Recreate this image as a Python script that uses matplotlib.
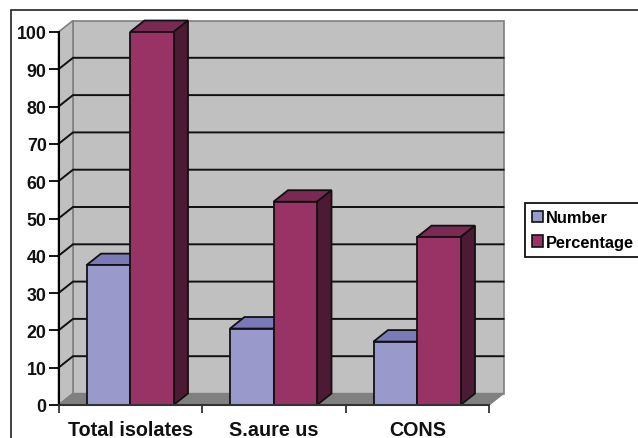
import matplotlib
matplotlib.use("Agg")
import matplotlib.pyplot as plt
from matplotlib.patches import Polygon, Rectangle, Patch

categories = ["Total isolates", "S.aure us", "CONS"]
number = [37.5, 20.5, 17]
percentage = [100, 54.5, 45]
series_names = ["Number", "Percentage"]
yticks = list(range(0, 101, 10))

W, H = 638, 439
plt.rcParams["font.family"] = ["Liberation Sans", "DejaVu Sans"]
plt.rcParams["font.weight"] = "bold"
fig = plt.figure(figsize=(W / 100, H / 100), dpi=100)

# outer frame
fig.add_artist(Rectangle((11 / W, -0.02), 1.1, (H - 11) / H + 0.02, transform=fig.transFigure,
                         fill=False, ec="#222222", lw=1.2))

L, R, B, T = 58.5, 489, 406, 33
ax = fig.add_axes([L / W, 1 - B / H, (R - L) / W, (B - T) / H])
ax.set_xlim(0, 3)
ax.set_ylim(0, 100)
ax.patch.set_visible(False)
for s in ("top", "right"):
    ax.spines[s].set_visible(False)
ax.spines["left"].set_linewidth(1.5)
ax.spines["bottom"].set_linewidth(1.5)
ax.spines["bottom"].set_color("#333333")
for s in ax.spines.values():
    s.set_zorder(6)

dx = 14.5 / ((R - L) / 3)
dy = 11.5 / ((B - T) / 100)

wall_edge = "#808080"
ax.add_patch(Polygon([(dx, 0 + dy), (3 + dx, dy), (3 + dx, 100 + dy), (dx, 100 + dy)],
                     fc="#c0c0c0", ec=wall_edge, lw=1.2, clip_on=False, zorder=1))
ax.add_patch(Polygon([(0, 0), (dx, dy), (dx, 100 + dy), (0, 100)],
                     fc="#c0c0c0", ec=wall_edge, lw=1.2, clip_on=False, zorder=1))
ax.add_patch(Polygon([(0, 0), (3, 0), (3 + dx, dy), (dx, dy)],
                     fc="#808080", ec="#808080", lw=1, clip_on=False, zorder=1.5))
for v in yticks[1:-1]:
    ax.plot([0, dx, 3 + dx], [v, v + dy, v + dy], color="#111111", lw=1.4,
            clip_on=False, zorder=2, solid_joinstyle="miter")


def bar3d(x0, width, h, front, top, side, z):
    ax.bar(x0, h, width, align="edge", color=front, edgecolor="#111111", linewidth=1.3, zorder=z + 0.2)
    ax.add_patch(Polygon([(x0, h), (x0 + width, h), (x0 + width + dx, h + dy), (x0 + dx, h + dy)],
                         fc=top, ec="#111111", lw=1.3, clip_on=False, zorder=z))
    ax.add_patch(Polygon([(x0 + width, 0), (x0 + width + dx, dy), (x0 + width + dx, h + dy), (x0 + width, h)],
                         fc=side, ec="#111111", lw=1.3, clip_on=False, zorder=z))


bw = 43.5 / ((R - L) / 3)
off = (86.5 - L) / ((R - L) / 3)
for i in range(3):
    bar3d(i + off, bw, number[i], "#9999cc", "#7a7ab8", "#5f5f8f", 3)
    bar3d(i + off + bw, bw, percentage[i], "#993366", "#7a2952", "#4d1a33", 4)

ax.set_yticks(yticks)
ax.set_yticklabels([str(v) for v in yticks], fontsize=12.8, fontweight="bold", color="#111111")
ax.tick_params(axis="y", length=7, width=1.3, pad=1.5)
ax.set_xticks([0, 1, 2, 3])
ax.set_xticklabels([])
ax.tick_params(axis="x", length=6, width=1.3, color="#333333")
for i, c in enumerate(categories):
    ax.annotate(c, (i + 0.5, 0), xytext=(0, -10.5), textcoords="offset points", ha="center", va="top",
                fontsize=14.2, fontweight="bold", color="#111111", annotation_clip=False)

handles = [Patch(fc="#9999cc", ec="#111111", lw=1.2), Patch(fc="#993366", ec="#111111", lw=1.2)]
leg = fig.legend(handles, series_names, loc="center left", bbox_to_anchor=(525 / W, 1 - 231 / H),
                 bbox_transform=fig.transFigure, fancybox=False, framealpha=1, edgecolor="#111111",
                 handlelength=0.7, handleheight=0.7, handletextpad=0.15,
                 borderpad=0.42, labelspacing=0.6, borderaxespad=0, prop={"size": 11.8, "weight": "bold"})
leg.get_frame().set_linewidth(1.3)

fig.savefig("out.png", dpi=100)
